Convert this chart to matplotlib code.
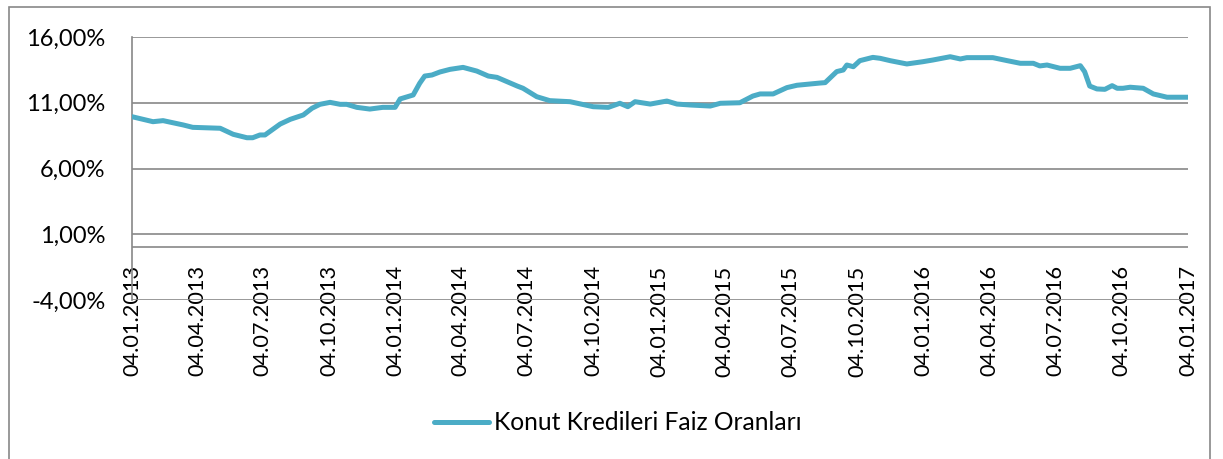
import matplotlib
matplotlib.use("Agg")
import matplotlib.pyplot as plt
import matplotlib.dates as mdates
from matplotlib.patches import Rectangle
import pandas as pd

plt.rcParams['font.family'] = ['Lato', 'DejaVu Sans']

# Konut kredileri faiz oranlari (%)
dates = [
    "2013-01-04", "2013-02-02", "2013-02-16", "2013-03-16", "2013-03-29", "2013-05-06",
    "2013-05-24", "2013-06-12", "2013-06-20", "2013-06-30", "2013-07-07", "2013-07-28",
    "2013-08-11", "2013-08-29", "2013-09-10", "2013-09-21", "2013-10-05", "2013-10-19",
    "2013-10-28", "2013-11-11", "2013-11-29", "2013-12-17", "2014-01-03", "2014-01-10",
    "2014-01-28", "2014-02-06", "2014-02-13", "2014-02-23", "2014-03-06", "2014-03-20",
    "2014-04-07", "2014-04-26", "2014-05-12", "2014-05-24", "2014-06-21", "2014-06-29",
    "2014-07-18", "2014-08-05", "2014-09-02", "2014-10-04", "2014-10-25", "2014-11-10",
    "2014-11-21", "2014-12-01", "2014-12-22", "2015-01-14", "2015-01-28", "2015-02-15",
    "2015-03-15", "2015-03-29", "2015-04-25", "2015-05-13", "2015-05-23", "2015-06-10",
    "2015-06-29", "2015-07-13", "2015-08-14", "2015-08-21", "2015-09-06", "2015-09-15",
    "2015-09-20", "2015-09-29", "2015-10-08", "2015-10-26", "2015-11-05", "2015-11-19",
    "2015-12-12", "2016-01-03", "2016-01-17", "2016-02-10", "2016-02-24", "2016-03-04",
    "2016-04-09", "2016-04-29", "2016-05-17", "2016-06-04", "2016-06-13", "2016-06-23",
    "2016-07-11", "2016-07-25", "2016-08-08", "2016-08-14", "2016-08-21", "2016-08-31",
    "2016-09-11", "2016-09-21", "2016-09-28", "2016-10-06", "2016-10-16", "2016-11-03",
    "2016-11-17", "2016-12-06", "2017-01-04",
]
rates = [
    9.94, 9.56, 9.64, 9.31, 9.13, 9.06,
    8.60, 8.34, 8.34, 8.55, 8.55, 9.38,
    9.74, 10.07, 10.58, 10.88, 11.03, 10.88,
    10.88, 10.65, 10.52, 10.65, 10.65, 11.29,
    11.59, 12.48, 13.03, 13.11, 13.34, 13.54,
    13.69, 13.41, 13.03, 12.93, 12.27, 12.10,
    11.46, 11.16, 11.08, 10.70, 10.65, 10.96,
    10.70, 11.08, 10.90, 11.13, 10.90, 10.83,
    10.75, 10.96, 11.00, 11.51, 11.67, 11.67,
    12.15, 12.33, 12.50, 12.53, 13.37, 13.49,
    13.87, 13.74, 14.20, 14.45, 14.38, 14.20,
    13.95, 14.12, 14.25, 14.50, 14.33, 14.43,
    14.43, 14.20, 14.00, 14.00, 13.80, 13.87,
    13.62, 13.62, 13.82, 13.36, 12.27, 12.05,
    12.02, 12.30, 12.10, 12.10, 12.18, 12.10,
    11.67, 11.42, 11.42,
]

x_ticks = ["2013-01-04", "2013-04-04", "2013-07-04", "2013-10-04",
           "2014-01-04", "2014-04-04", "2014-07-04", "2014-10-04",
           "2015-01-04", "2015-04-04", "2015-07-04", "2015-10-04",
           "2016-01-04", "2016-04-04", "2016-07-04", "2016-10-04",
           "2017-01-04"]
y_ticks = [-4, 1, 6, 11, 16]
y_labels = ["-4,00%", "1,00%", "6,00%", "11,00%", "16,00%"]
series_name = "Konut Kredileri Faiz Oranları"

line_color = "#4BACC6"
grid_color = "#888888"

W, H = 1223, 459
fig = plt.figure(figsize=(W / 100, H / 100), dpi=100)

# outer chart border
fig.patches.append(Rectangle((9 / W, -0.05), 1201 / W, 1.05 - 7 / H,
                             transform=fig.transFigure, fill=False,
                             edgecolor="#888888", linewidth=1.2))

ax = fig.add_axes([132 / W, 1 - 300 / H, (1188 - 132) / W, (300 - 37) / H])

x = pd.to_datetime(dates)
ax.plot(x, rates, color=line_color, linewidth=3.6, solid_capstyle="round",
        solid_joinstyle="round", label=series_name, zorder=3)

ax.set_xlim(pd.Timestamp(x_ticks[0]), pd.Timestamp(x_ticks[-1]))
ax.set_ylim(-4, 16)

ax.set_yticks(y_ticks)
ax.set_yticklabels(y_labels)
ax.set_xticks(pd.to_datetime(x_ticks))
ax.xaxis.set_major_formatter(mdates.DateFormatter("%d.%m.%Y"))

for s in ["top", "right", "bottom"]:
    ax.spines[s].set_visible(False)
ax.spines["left"].set_color(grid_color)
ax.spines["left"].set_linewidth(1.2)

ax.grid(axis="y", color=grid_color, linewidth=1.2, zorder=1)
ax.axhline(0, color=grid_color, linewidth=1.2, zorder=1)
ax.set_axisbelow(True)

ax.tick_params(axis="y", length=0, pad=19, labelsize=17, colors="black")
ax.tick_params(axis="x", length=0, pad=-25, labelsize=15.7, rotation=90,
               colors="black")
for lbl in ax.get_xticklabels():
    lbl.set_zorder(4)

fig.legend(loc="center", bbox_to_anchor=(0.505, 1 - 423 / H), frameon=False,
           fontsize=17.7, handlelength=2.25, handletextpad=0.2)

fig.savefig("out.png", dpi=100)
